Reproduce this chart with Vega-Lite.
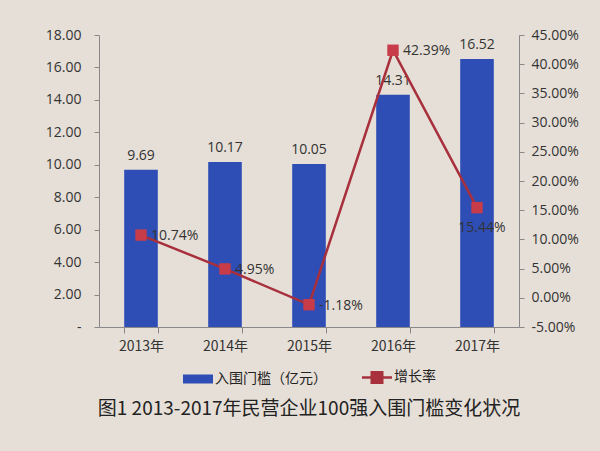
{
  "$schema": "https://vega.github.io/schema/vega-lite/v6.json",
  "width": 420,
  "height": 292,
  "autosize": "none",
  "padding": {"left": 99, "top": 35, "right": 81, "bottom": 124},
  "background": "#e6dfd7",
  "title": {
    "text": "图1 2013-2017年民营企业100强入围门槛变化状况",
    "orient": "bottom",
    "anchor": "middle",
    "font": "Noto Sans CJK SC",
    "fontSize": 19,
    "fontWeight": "normal",
    "color": "#222222",
    "offset": 12
  },
  "data": {
    "values": [
      {"year": "2013年", "threshold": 9.69, "growth": 0.1074},
      {"year": "2014年", "threshold": 10.17, "growth": 0.0495},
      {"year": "2015年", "threshold": 10.05, "growth": -0.0118},
      {"year": "2016年", "threshold": 14.31, "growth": 0.4239},
      {"year": "2017年", "threshold": 16.52, "growth": 0.1544}
    ]
  },
  "encoding": {
    "x": {
      "field": "year",
      "type": "nominal",
      "sort": null,
      "scale": {"paddingInner": 0.6, "paddingOuter": 0.3},
      "axis": {
        "title": null,
        "labelAngle": 0,
        "labelFont": "Noto Sans CJK SC",
        "labelFontSize": 14,
        "labelColor": "#333333",
        "labelPadding": 6,
        "tickBand": "extent",
        "tickSize": 6,
        "tickColor": "#888888",
        "domainColor": "#888888",
        "grid": false
      }
    }
  },
  "layer": [
    {
      "encoding": {
        "y": {
          "field": "threshold",
          "type": "quantitative",
          "scale": {"domain": [0, 18], "nice": false},
          "axis": {
            "title": null,
            "values": [0, 2, 4, 6, 8, 10, 12, 14, 16, 18],
            "labelExpr": "datum.value == 0 ? '-' : format(datum.value, '.2f')",
            "labelOverlap": false,
            "labelFont": "Open Sans",
            "labelFontSize": 14,
            "labelColor": "#333333",
            "labelPadding": 13,
            "tickSize": 5,
            "tickColor": "#888888",
            "domainColor": "#888888",
            "grid": false
          }
        }
      },
      "layer": [
        {
          "mark": {"type": "bar", "color": "#2e4db5"},
          "encoding": {
            "color": {
              "datum": "入围门槛（亿元）",
              "type": "nominal",
              "scale": {"domain": ["入围门槛（亿元）", "增长率"], "range": ["#2e4db5", "#a8303c"]},
              "legend": {
                "title": null,
                "orient": "none",
                "legendX": 92,
                "legendY": 335,
                "direction": "horizontal",
                "symbolSize": 900,
                "labelFont": "Noto Sans CJK SC",
                "labelFontSize": 14,
                "labelColor": "#222222",
                "labelOffset": 10,
                "columnPadding": 30,
                "encode": {
                  "symbols": {
                    "update": {
                      "shape": {"signal": "datum.value === '增长率' ? 'M-1,0H1M-0.35,-0.35H0.35V0.35H-0.35Z' : 'M-1,-0.3H1V0.3H-1Z'"},
                      "fill": {"signal": "datum.value === '增长率' ? '#a8303c' : '#2e4db5'"},
                      "stroke": {"signal": "datum.value === '增长率' ? '#a8303c' : '#2e4db5'"},
                      "strokeWidth": {"signal": "datum.value === '增长率' ? 2.5 : 0"},
                      "fillOpacity": {"value": 1},
                      "opacity": {"value": 1}
                    }
                  }
                }
              }
            }
          }
        },
        {
          "mark": {"type": "text", "baseline": "bottom", "dy": -7, "font": "Open Sans", "fontSize": 14, "color": "#333333"},
          "encoding": {
            "text": {"field": "threshold", "type": "quantitative", "format": ".2f"}
          }
        }
      ]
    },
    {
      "encoding": {
        "y": {
          "field": "growth",
          "type": "quantitative",
          "scale": {"domain": [-0.05, 0.45], "nice": false, "zero": false},
          "axis": {
            "orient": "right",
            "title": null,
            "values": [-0.05, 0, 0.05, 0.1, 0.15, 0.2, 0.25, 0.3, 0.35, 0.4, 0.45],
            "format": ".2%",
            "labelOverlap": false,
            "labelFont": "Open Sans",
            "labelFontSize": 14,
            "labelColor": "#333333",
            "labelPadding": 7,
            "tickSize": 5,
            "tickColor": "#888888",
            "domainColor": "#888888",
            "grid": false
          }
        }
      },
      "layer": [
        {
          "mark": {"type": "line", "strokeWidth": 2.5},
          "encoding": {
            "color": {"datum": "增长率", "type": "nominal"}
          }
        },
        {
          "mark": {"type": "point", "shape": "square", "filled": true, "size": 130, "opacity": 1, "color": "#c83c4a"}
        },
        {
          "transform": [{"filter": "datum.year !== '2017年'"}],
          "mark": {"type": "text", "align": "left", "baseline": "middle", "dx": 10, "dy": 1, "font": "Open Sans", "fontSize": 14, "color": "#333333"},
          "encoding": {
            "text": {"field": "growth", "type": "quantitative", "format": ".2%"}
          }
        },
        {
          "transform": [{"filter": "datum.year === '2017年'"}],
          "mark": {"type": "text", "align": "center", "baseline": "middle", "dx": 5, "dy": 20, "font": "Open Sans", "fontSize": 14, "color": "#333333"},
          "encoding": {
            "text": {"field": "growth", "type": "quantitative", "format": ".2%"}
          }
        }
      ]
    }
  ],
  "resolve": {"scale": {"y": "independent"}},
  "config": {
    "view": {"stroke": null},
    "axis": {"labelOverlap": false},
    "locale": {
      "number": {"decimal": ".", "thousands": ",", "grouping": [3], "currency": ["", ""], "minus": "-"}
    }
  }
}
